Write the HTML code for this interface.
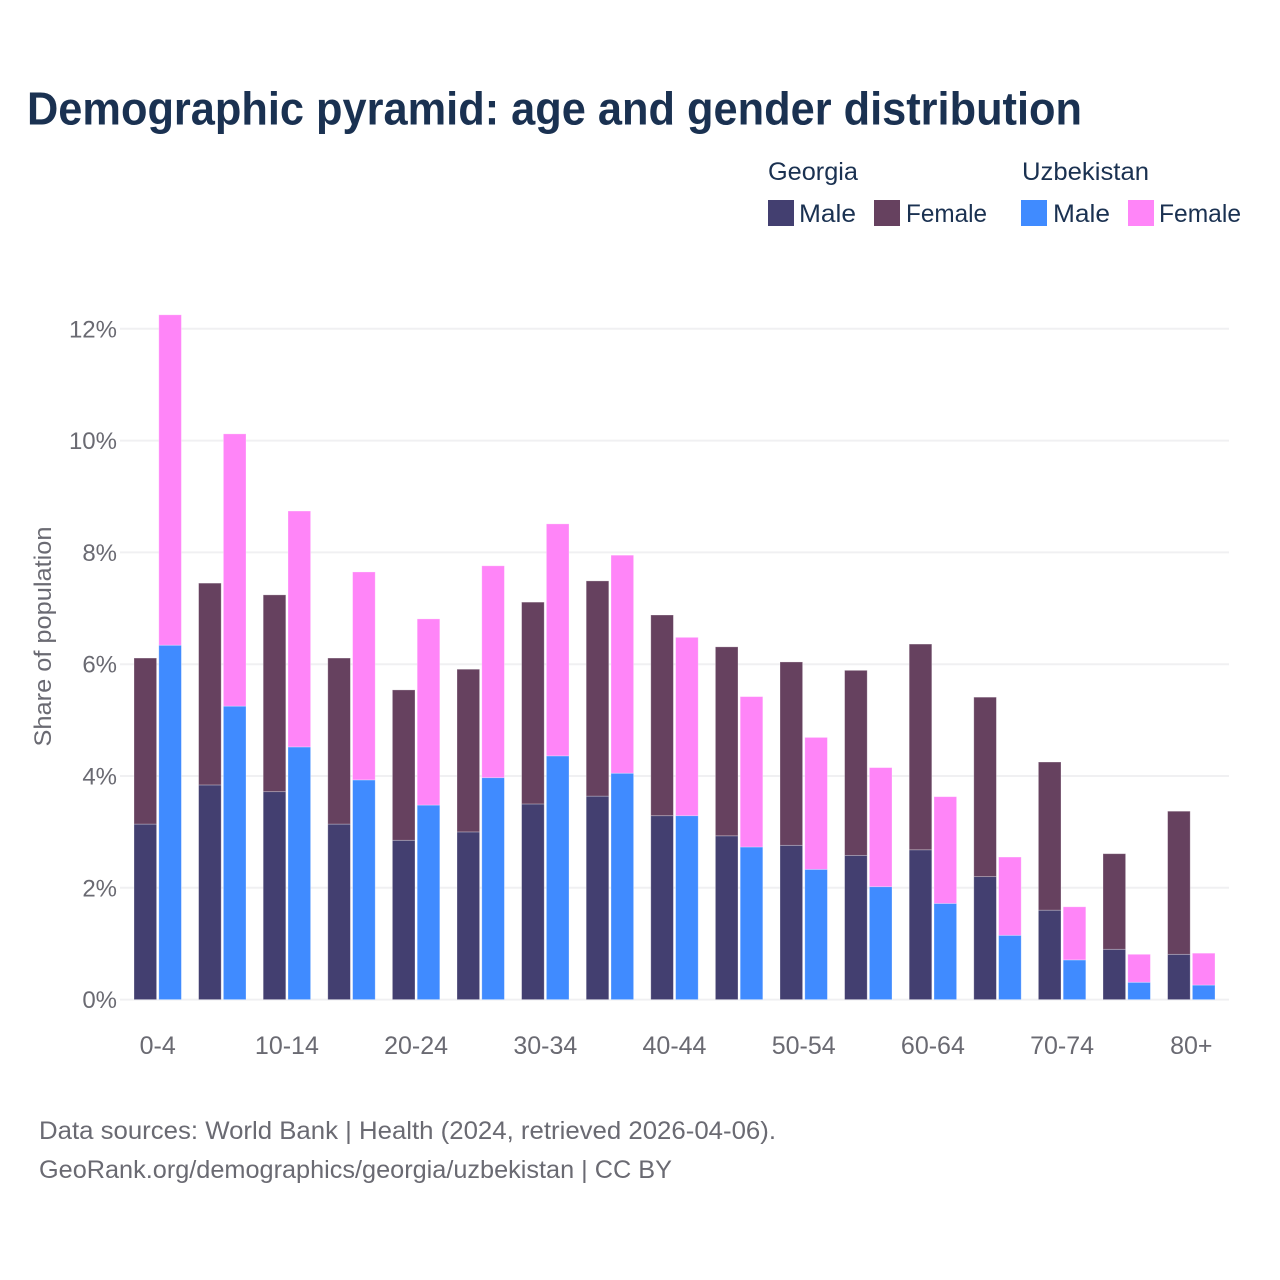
<!DOCTYPE html>
<html lang="en">
<head>
<meta charset="utf-8">
<title>Demographic pyramid: age and gender distribution</title>
<style>
html,body{margin:0;padding:0;background:#fff;}
svg{display:block;font-family:"Liberation Sans",sans-serif;}
</style>
</head>
<body>
<svg id="chart" xmlns="http://www.w3.org/2000/svg" width="1280" height="1280" viewBox="0 0 1280 1280">
  <rect x="0" y="0" width="1280" height="1280" fill="#ffffff"/>
  <text x="27" y="124.5" font-size="46" font-weight="700" fill="#1a3151" textLength="1055" lengthAdjust="spacingAndGlyphs">Demographic pyramid: age and gender distribution</text>

  <g font-size="25" fill="#1a3151">
    <text x="768" y="180" textLength="90" lengthAdjust="spacingAndGlyphs">Georgia</text>
    <text x="1022" y="180" textLength="127" lengthAdjust="spacingAndGlyphs">Uzbekistan</text>
    <rect x="768" y="200" width="26" height="26" fill="#433f70"/>
    <text x="799" y="222" textLength="57" lengthAdjust="spacingAndGlyphs">Male</text>
    <rect x="874" y="200" width="26" height="26" fill="#66415f"/>
    <text x="906" y="222" textLength="81" lengthAdjust="spacingAndGlyphs">Female</text>
    <rect x="1021" y="200" width="26" height="26" fill="#408bff"/>
    <text x="1053" y="222" textLength="57" lengthAdjust="spacingAndGlyphs">Male</text>
    <rect x="1128" y="200" width="26" height="26" fill="#ff85f8"/>
    <text x="1159" y="222" textLength="82" lengthAdjust="spacingAndGlyphs">Female</text>
  </g>

  <g id="grid"></g>
  <g id="bars"></g>
  <g id="yticks"></g>
  <g id="xticks"></g>

  <text transform="translate(51,636.5) rotate(-90)" text-anchor="middle" font-size="24" fill="#6a6a72" textLength="220" lengthAdjust="spacingAndGlyphs">Share of population</text>

  <text x="39" y="1139" font-size="25" fill="#6a6a72" textLength="737" lengthAdjust="spacingAndGlyphs">Data sources: World Bank | Health (2024, retrieved 2026-04-06).</text>
  <text x="39" y="1178" font-size="25" fill="#6a6a72" textLength="633" lengthAdjust="spacingAndGlyphs">GeoRank.org/demographics/georgia/uzbekistan | CC BY</text>
</svg>
<script>
const categories = ['0-4','5-9','10-14','15-19','20-24','25-29','30-34','35-39','40-44','45-49','50-54','55-59','60-64','65-69','70-74','75-79','80+'];
const georgiaMale = [3.14,3.84,3.72,3.14,2.85,3.00,3.50,3.64,3.29,2.93,2.76,2.58,2.68,2.20,1.60,0.90,0.81];
const georgiaFemale = [2.97,3.61,3.52,2.97,2.69,2.91,3.61,3.85,3.59,3.38,3.28,3.31,3.68,3.21,2.65,1.71,2.56];
const uzbekistanMale = [6.34,5.25,4.52,3.93,3.48,3.97,4.36,4.05,3.29,2.73,2.33,2.02,1.72,1.15,0.71,0.31,0.26];
const uzbekistanFemale = [5.91,4.87,4.22,3.72,3.33,3.79,4.15,3.90,3.19,2.69,2.36,2.13,1.91,1.40,0.95,0.50,0.57];
const yTickValues = [0,2,4,6,8,10,12];
const yTickLabels = ['0%','2%','4%','6%','8%','10%','12%'];
const xTickLabels = ['0-4','','10-14','','20-24','','30-34','','40-44','','50-54','','60-64','','70-74','','80+'];

const NS = 'http://www.w3.org/2000/svg';
const COLORS = {gm:'#433f70', gf:'#66415f', um:'#408bff', uf:'#ff85f8'};
const y = v => 999.6 - v * 55.9;
const groupCenter = i => 157.7 + i * 64.6;
const BAR_W = 22.6;
const BAR_OFFSET = 1.1;

function svgEl(tag, parent, attrs) {
  const el = document.createElementNS(NS, tag);
  for (const k in attrs) el.setAttribute(k, attrs[k]);
  parent.appendChild(el);
  return el;
}

const grid = document.getElementById('grid');
const bars = document.getElementById('bars');
const yticks = document.getElementById('yticks');
const xticks = document.getElementById('xticks');

yTickValues.forEach((v, i) => {
  const line = svgEl('line', grid, {x1:120, x2:1229, y1:y(v), y2:y(v), stroke:'#f0f0f2', 'stroke-width':2});
  
  
  const t = svgEl('text', yticks, {x:117, y:y(v)+8.5, 'text-anchor':'end', 'font-size':24, fill:'#6a6a72'});
  t.textContent = yTickLabels[i];
  
  
});

function drawBar(parent, x, base, value, fill, name) {
  const top = y(base + value);
  const r = svgEl('rect', parent, {x:x, y:top, width:BAR_W, height:y(base)-top, fill:fill, stroke:'#ffffff', 'stroke-opacity':0.35, 'stroke-width':0.8});
  
  
}

categories.forEach((c, i) => {
  const cx = groupCenter(i);
  const g = svgEl('g', bars, {});
  
  
  const xG = cx - BAR_OFFSET - BAR_W;
  const xU = cx + BAR_OFFSET;
  drawBar(g, xG, 0, georgiaMale[i], COLORS.gm, 'bar-georgia-male');
  drawBar(g, xG, georgiaMale[i], georgiaFemale[i], COLORS.gf, 'bar-georgia-female');
  drawBar(g, xU, 0, uzbekistanMale[i], COLORS.um, 'bar-uzbekistan-male');
  drawBar(g, xU, uzbekistanMale[i], uzbekistanFemale[i], COLORS.uf, 'bar-uzbekistan-female');
  if (xTickLabels[i]) {
    const t = svgEl('text', xticks, {x:cx, y:1054, 'text-anchor':'middle', 'font-size':25, fill:'#6a6a72'});
    t.textContent = xTickLabels[i];
    
    
  }
});
</script>
</body>
</html>
